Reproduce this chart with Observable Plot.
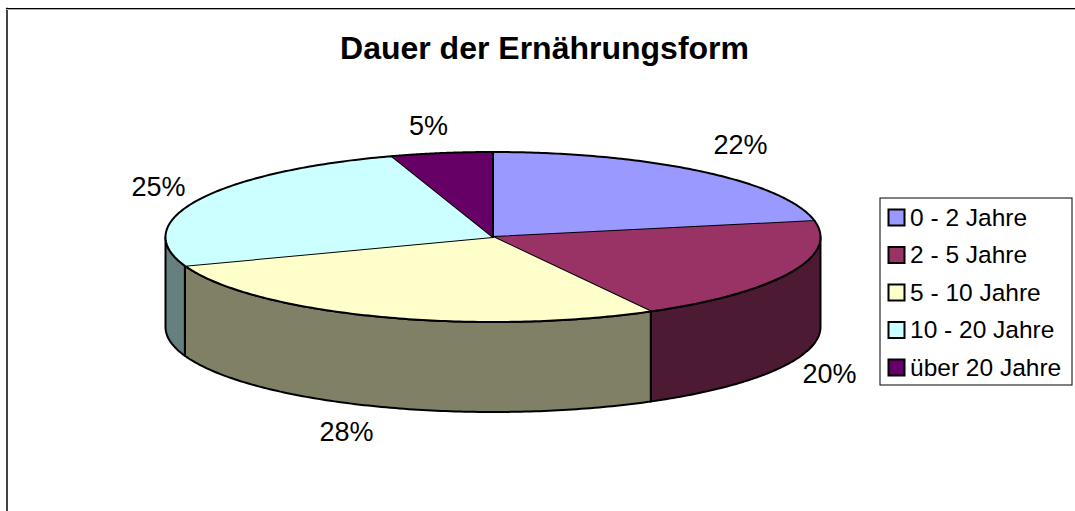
<!DOCTYPE html>
<html><head><meta charset="utf-8">
<script src="https://cdn.jsdelivr.net/npm/d3@7"></script>
<script src="https://cdn.jsdelivr.net/npm/@observablehq/plot@0.6"></script>
<style>html,body{margin:0;padding:0;background:#fff}svg{display:block}</style>
</head><body><div id="c"></div>
<script>
const categories = ["0 - 2 Jahre","2 - 5 Jahre","5 - 10 Jahre","10 - 20 Jahre","über 20 Jahre"];
const shares = [22, 20, 27.5, 25.5, 5];
const labels = ["22%","20%","28%","25%","5%"];
const topColors = ["#9999ff","#993366","#ffffcc","#ccffff","#660066"];
const sideColors = ["#4d4d80","#4d1a33","#808066","#668080","#330033"];
const title = "Dauer der Ernährungsform";
const W = 1075, H = 511;
const cx = 492.5, cy = 236.5, rx = 327.5, ry = 85, depth = 90;
const X = a => cx + rx * Math.sin(a), Y = (a, d = 0) => cy - ry * Math.cos(a) + d;
let acc = 0;
const slices = shares.map((v, i) => { const s = acc; acc += v; return {i, a0: s / 100 * 2 * Math.PI, a1: acc / 100 * 2 * Math.PI}; });
const arc = (a0, a1) => d3.range(0, 121).map(k => a0 + (a1 - a0) * k / 120);
const tops = [], sides = [];
for (const s of slices) {
  for (const a of arc(s.a0, s.a1)) tops.push({k: s.i, x: X(a), y: Y(a)});
  tops.push({k: s.i, x: cx, y: cy});
  const lo = Math.max(s.a0, Math.PI / 2), hi = Math.min(s.a1, 3 * Math.PI / 2);
  if (lo < hi) {
    for (const a of arc(lo, hi)) sides.push({k: s.i, x: X(a), y: Y(a)});
    for (const a of arc(hi, lo)) sides.push({k: s.i, x: X(a), y: Y(a, depth)});
    sides.push({k: s.i, x: X(lo), y: Y(lo)});
  }
}
const labelPos = [[740,145],[829,374],[346,432],[158,187],[428,126]];
const labelRows = labels.map((t, i) => ({t, x: labelPos[i][0], y: labelPos[i][1]}));
const lg = categories.map((t, i) => ({t, i, y: 217.5 + i * 37.5}));
const font = "Liberation Sans, Arial, sans-serif";
const ident = {x: {type:"linear", domain:[0,W], range:[0,W]}, y: {type:"linear", domain:[0,H], range:[0,H]}};
const chart = Plot.plot({
  width: W, height: H, margin: 0, ...ident, axis: null,
  style: {fontFamily: font, background: "#fff", overflow: "visible"},
  marks: [
    Plot.line([{x:6.5,y:8},{x:6.5,y:511}], {x:"x", y:"y", stroke:"#444", strokeWidth:2}),
    Plot.line([{x:6,y:9},{x:1075,y:9}], {x:"x", y:"y", stroke:"#aaa", strokeWidth:1}),
    Plot.line([{x:6,y:8},{x:1075,y:8}], {x:"x", y:"y", stroke:"#000", strokeWidth:1}),
    Plot.line(sides, {x:"x", y:"y", z:"k", fill: d => sideColors[d.k], stroke:"#000", strokeWidth:2, curve:"linear", strokeLinejoin:"round"}),
    Plot.line(tops, {x:"x", y:"y", z:"k", fill: d => topColors[d.k], stroke:"#000", strokeWidth:2, curve:"linear", strokeLinejoin:"round"}),
    Plot.text([title], {x:544, y:48, text:d=>d, fontSize:32, fontWeight:"bold", fill:"#000"}),
    Plot.text(labelRows, {x:"x", y:"y", text:"t", fontSize:27, fill:"#000"}),
    Plot.rect([{x1:880,x2:1072,y1:198,y2:385}], {x1:"x1",x2:"x2",y1:"y1",y2:"y2", fill:"#fff", stroke:"#000", strokeWidth:1}),
    Plot.rect(lg, {x1:888.5, x2:904.5, y1:d=>d.y-8, y2:d=>d.y+8, fill:d=>topColors[d.i], stroke:"#000", strokeWidth:2}),
    Plot.text(lg, {x:909.5, y:"y", text:"t", textAnchor:"start", fontSize:24.5, fill:"#000"})
  ]
});
document.getElementById("c").append(chart);
</script></body></html>
